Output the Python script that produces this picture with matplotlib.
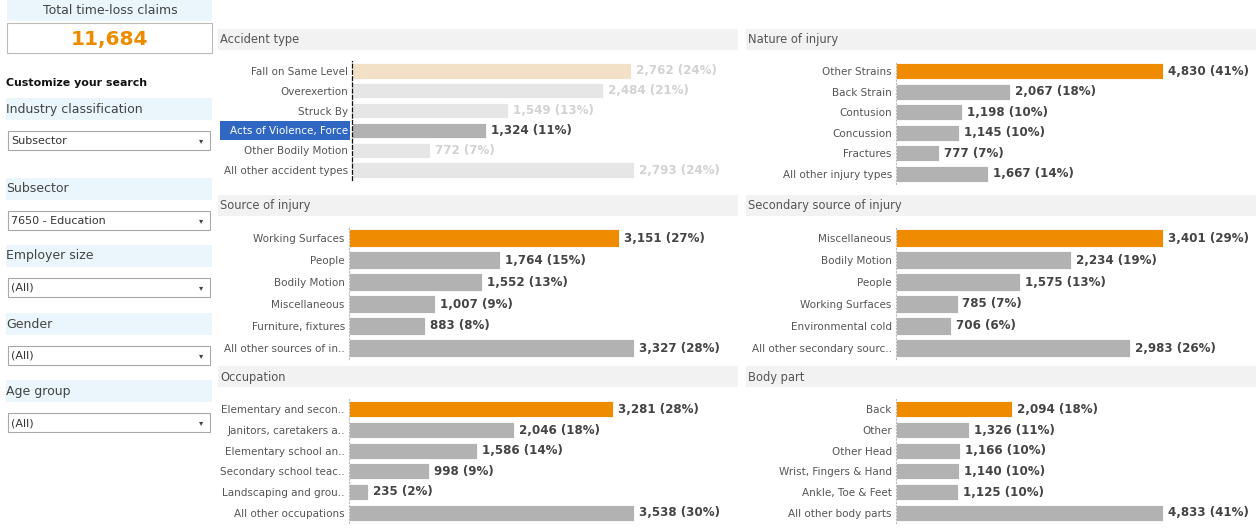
import matplotlib
matplotlib.use('Agg')
import matplotlib.pyplot as plt
from matplotlib.patches import Rectangle
import matplotlib.transforms as mtransforms

W, H = 1256, 529

# Datos
total_claims = "11,684"

accident_labels = ["Fall on Same Level", "Overexertion", "Struck By",
                   "Acts of Violence, Force", "Other Bodily Motion", "All other accident types"]
accident_values = [2762, 2484, 1549, 1324, 772, 2793]
accident_pcts = [24, 21, 13, 11, 7, 24]

nature_labels = ["Other Strains", "Back Strain", "Contusion", "Concussion",
                 "Fractures", "All other injury types"]
nature_values = [4830, 2067, 1198, 1145, 777, 1667]
nature_pcts = [41, 18, 10, 10, 7, 14]

source_labels = ["Working Surfaces", "People", "Bodily Motion", "Miscellaneous",
                 "Furniture, fixtures", "All other sources of in.."]
source_values = [3151, 1764, 1552, 1007, 883, 3327]
source_pcts = [27, 15, 13, 9, 8, 28]

secondary_labels = ["Miscellaneous", "Bodily Motion", "People", "Working Surfaces",
                    "Environmental cold", "All other secondary sourc.."]
secondary_values = [3401, 2234, 1575, 785, 706, 2983]
secondary_pcts = [29, 19, 13, 7, 6, 26]

occupation_labels = ["Elementary and secon..", "Janitors, caretakers a..",
                     "Elementary school an..", "Secondary school teac..",
                     "Landscaping and grou..", "All other occupations"]
occupation_values = [3281, 2046, 1586, 998, 235, 3538]
occupation_pcts = [28, 18, 14, 9, 2, 30]

bodypart_labels = ["Back", "Other", "Other Head", "Wrist, Fingers & Hand",
                   "Ankle, Toe & Feet", "All other body parts"]
bodypart_values = [2094, 1326, 1166, 1140, 1125, 4833]
bodypart_pcts = [18, 11, 10, 10, 10, 41]

filters = [("Industry classification", "Subsector"),
           ("Subsector", "7650 - Education"),
           ("Employer size", "(All)"),
           ("Gender", "(All)"),
           ("Age group", "(All)")]

ORANGE = '#EE8B00'
GRAY = '#B2B2B2'
TEXT = '#555555'
VALTEXT = '#444444'

plt.rcParams['font.family'] = ['DejaVu Sans']

fig = plt.figure(figsize=(W / 100, H / 100), dpi=100)
fig.patch.set_facecolor('white')

# capa de fondo en pixeles
bg = fig.add_axes([0, 0, 1, 1])
bg.set_xlim(0, W)
bg.set_ylim(H, 0)
bg.axis('off')

# Panel izquierdo
bg.add_patch(Rectangle((7, 0), 205, 21, facecolor='#EAF6FC', edgecolor='none'))
bg.text(110, 11, "Total time-loss claims", ha='center', va='center', fontsize=9, color='#444444')
bg.add_patch(Rectangle((7, 23), 205, 30, facecolor='white', edgecolor='#BBBBBB', lw=0.8))
bg.text(109, 39, total_claims, ha='center', va='center', fontsize=14.5, fontweight='bold', color=ORANGE)
bg.text(6, 83, "Customize your search", ha='left', va='center', fontsize=7.9, fontweight='bold', color='#111111')

band_tops = [98, 178, 245, 313, 380]
for (titulo, valor), yb in zip(filters, band_tops):
    bg.add_patch(Rectangle((6, yb), 206, 22, facecolor='#EAF6FC', edgecolor='none'))
    bg.text(6, yb + 11, titulo, ha='left', va='center', fontsize=9, color='#444444')
    yd = yb + 33
    bg.add_patch(Rectangle((8, yd), 202, 19, facecolor='white', edgecolor='#A8A8A8', lw=0.8))
    bg.text(11, yd + 10, valor, ha='left', va='center', fontsize=8, color='#333333')
    bg.text(201, yd + 10, "\u25BE", ha='center', va='center', fontsize=6, color='#444444')


def panel(titulo, labels, values, pcts, x_band, x_right, axis_x, end_px,
          y_band, y_top, y_bot, dashed=False, faded=None):
    bg.add_patch(Rectangle((x_band, y_band), x_right - x_band, 21,
                           facecolor='#F2F2F2', edgecolor='none'))
    bg.text(x_band + 2, y_band + 11, titulo, ha='left', va='center', fontsize=8.3, color=TEXT)

    ax = fig.add_axes([axis_x / W, 1 - y_bot / H, (x_right - axis_x) / W, (y_bot - y_top) / H])
    ax.patch.set_alpha(0)
    n = len(values)
    pos = list(range(n))
    xmax = max(values) * (x_right - axis_x) / (end_px - axis_x)

    colores = [ORANGE] + [GRAY] * (n - 1)
    colores_txt = [VALTEXT] * n
    if faded is not None:
        colores = ['#F3E1C7'] + ['#E6E6E6'] * (n - 1)
        colores_txt = ['#D2D2D2'] * n
        colores[faded] = GRAY
        colores_txt[faded] = VALTEXT

    ax.barh(pos, values, height=0.78, color=colores, edgecolor='white', linewidth=0.6)
    for i, (v, p) in enumerate(zip(values, pcts)):
        ax.annotate(f"{v:,} ({p}%)", (v, i), xytext=(3.5, 0), textcoords='offset points',
                    ha='left', va='center', fontsize=8.6, fontweight='bold', color=colores_txt[i])

    ax.set_xlim(0, xmax)
    ax.set_ylim(n - 0.5, -0.5)
    ax.set_xticks([])
    ax.set_yticks(pos)
    ax.set_yticklabels(labels, fontsize=7.5, color=TEXT)
    ax.tick_params(axis='y', length=0, pad=3)
    for s in ['top', 'right', 'bottom']:
        ax.spines[s].set_visible(False)
    if dashed:
        ax.spines['left'].set_linestyle((0, (3, 2)))
        ax.spines['left'].set_color('#111111')
        ax.spines['left'].set_linewidth(0.9)
    else:
        ax.spines['left'].set_linestyle((0, (1, 2)))
        ax.spines['left'].set_color('#BBBBBB')
        ax.spines['left'].set_linewidth(0.8)

    if faded is not None:
        tl = ax.get_yticklabels()[faded]
        tl.set_color('white')
        trans = mtransforms.blended_transform_factory(bg.transData, ax.transData)
        bg.add_patch(Rectangle((220, faded - 0.48), 130, 0.96, transform=trans,
                               facecolor='#2F67C3', edgecolor='none', zorder=1))
    return ax


panel("Accident type", accident_labels, accident_values, accident_pcts,
      218, 738, 352, 634, 29, 61, 180, dashed=True, faded=3)
panel("Nature of injury", nature_labels, nature_values, nature_pcts,
      746, 1256, 896, 1163, 29, 61, 184)
panel("Source of injury", source_labels, source_values, source_pcts,
      218, 738, 349, 634, 195, 227, 359)
panel("Secondary source of injury", secondary_labels, secondary_values, secondary_pcts,
      746, 1256, 896, 1163, 195, 227, 359)
panel("Occupation", occupation_labels, occupation_values, occupation_pcts,
      218, 738, 349, 634, 366, 399, 523)
panel("Body part", bodypart_labels, bodypart_values, bodypart_pcts,
      746, 1256, 896, 1163, 366, 399, 523)

fig.savefig("out.png", dpi=100)
plt.close(fig)
